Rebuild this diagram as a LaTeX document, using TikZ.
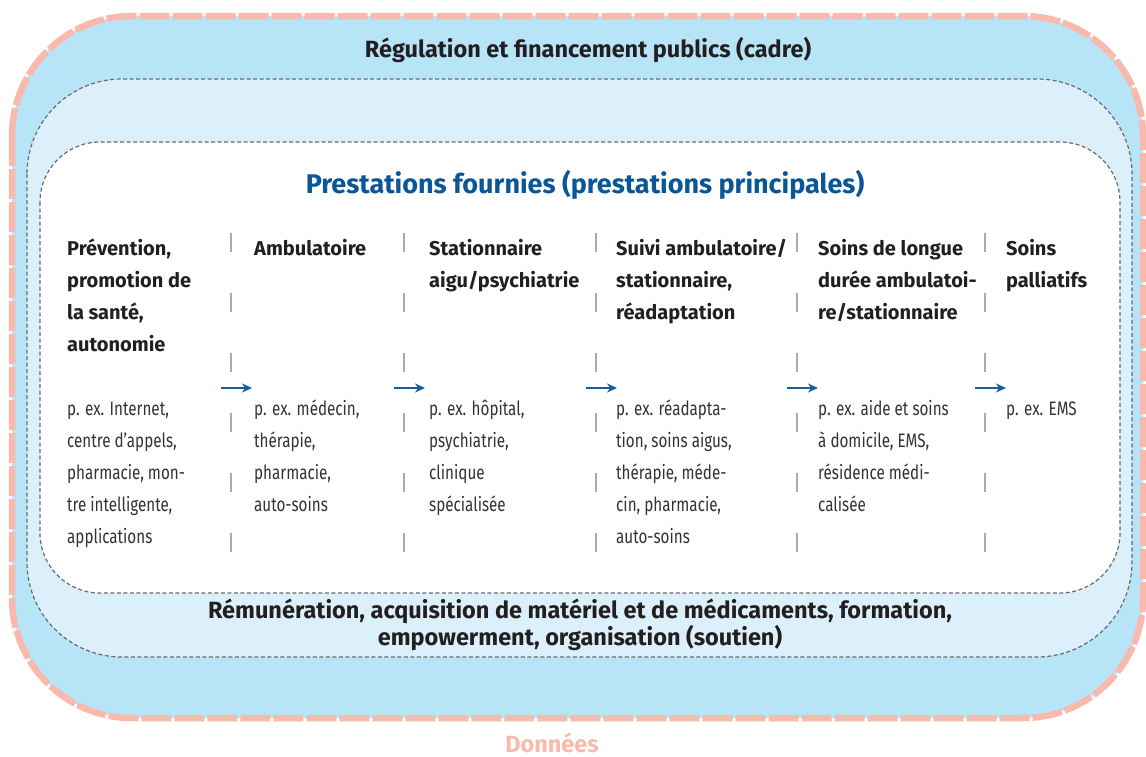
\documentclass[tikz,border=0pt]{standalone}
\usepackage{fontspec}
\setmainfont{Fira Sans}
\newfontfamily\colfont{Fira Sans}[FakeStretch=0.78]
\usetikzlibrary{arrows.meta}
\definecolor{outerblue}{HTML}{B8E4F8}
\definecolor{midblue}{HTML}{DBF0FB}
\definecolor{rosa}{HTML}{F9B9AD}
\definecolor{framegray}{HTML}{6B6B6B}
\definecolor{divgray}{HTML}{ABABAB}
\definecolor{titleblue}{HTML}{0B5697}
\definecolor{arrowblue}{HTML}{1A5D9C}
\definecolor{txt}{HTML}{231F20}
\definecolor{bodytxt}{HTML}{333333}

\newcommand{\colbox}[1]{\parbox[t]{200pt}{\raggedright #1}}

\tikzset{
  outerbox/.style={fill=outerblue, draw=rosa, line width=6.5pt, dash pattern=on 30pt off 3pt, rounded corners=120pt},
  midbox/.style={fill=midblue, draw=framegray, line width=1.2pt, dash pattern=on 4pt off 2.5pt, rounded corners=95pt},
  innerbox/.style={fill=white, draw=framegray, line width=1.2pt, dash pattern=on 4pt off 2.5pt, rounded corners=60pt},
  bandtext/.style={anchor=base, inner sep=0pt, align=center, text=txt, font=\fontsize{23.5}{27}\selectfont\bfseries},
  headtext/.style={anchor=base west, inner sep=0pt, text=txt, font=\fontsize{20}{32}\selectfont\bfseries},
  extext/.style={anchor=base west, inner sep=0pt, text=bodytxt, font=\colfont\fontsize{19.5}{32}\selectfont},
  divline/.style={draw=divgray, line width=1.3pt, dash pattern=on 19pt off 41pt},
  flow/.style={draw=arrowblue, line width=1.5pt, -{Stealth[length=10pt,width=9pt]}}
}

\begin{document}
\begin{tikzpicture}[x=1pt,y=1pt]
\useasboundingbox (0,0) rectangle (1146,-756);

% frames
\draw[outerbox] (12,-16) rectangle (1143,-718);
\draw[midbox] (27,-79) rectangle (1132,-657);
\draw[innerbox] (40,-142) rectangle (1120,-593);

\node[bandtext] (cadre) at (588,-57) {Régulation et financement publics (cadre)};
\node[bandtext, text=titleblue, font=\fontsize{27}{30}\selectfont\bfseries] (prest) at (585,-193) {Prestations fournies (prestations principales)};
\node[bandtext] (soutien) at (580,-645) {Rémunération, acquisition de matériel et de médicaments, formation,\\empowerment, organisation (soutien)};
\node[bandtext, text=rosa] (donnees) at (552,-752) {Données};

% columns
\node[headtext] (h1) at (67,-255) {\colbox{Prévention,\\promotion de\\la santé,\\autonomie}};
\node[headtext] (h2) at (254,-255) {\colbox{Ambulatoire}};
\node[headtext] (h3) at (429,-255) {\colbox{Stationnaire\\aigu/psychiatrie}};
\node[headtext] (h4) at (616,-255) {\colbox{Suivi ambulatoire/\\stationnaire,\\réadaptation}};
\node[headtext] (h5) at (818,-255) {\colbox{Soins de longue\\durée ambulatoi-\\re/stationnaire}};
\node[headtext] (h6) at (1006,-255) {\colbox{Soins\\palliatifs}};

\node[extext] (e1) at (67,-415) {\colbox{p. ex. Internet,\\centre d’appels,\\pharmacie, mon-\\tre intelligente,\\applications}};
\node[extext] (e2) at (254,-415) {\colbox{p. ex. médecin,\\thérapie,\\pharmacie,\\auto-soins}};
\node[extext] (e3) at (429,-415) {\colbox{p. ex. hôpital,\\psychiatrie,\\clinique\\spécialisée}};
\node[extext] (e4) at (616,-415) {\colbox{p. ex. réadapta-\\tion, soins aigus,\\thérapie, méde-\\cin, pharmacie,\\auto-soins}};
\node[extext] (e5) at (818,-415) {\colbox{p. ex. aide et soins\\à domicile, EMS,\\résidence médi-\\calisée}};
\node[extext] (e6) at (1006,-415) {\colbox{p. ex. EMS}};

% dividers and arrows
\foreach \x [count=\i] in {231,404,596,797,985} {
  \coordinate (t\i) at (\x,-233);
  \coordinate (b\i) at (\x,-552);
  \coordinate (a\i) at (\x-10,-388);
  \coordinate (z\i) at (\x+21,-388);
  \draw[divline] (t\i) -- (b\i);
  \draw[flow] (a\i) -- (z\i);
}
\end{tikzpicture}
\end{document}
